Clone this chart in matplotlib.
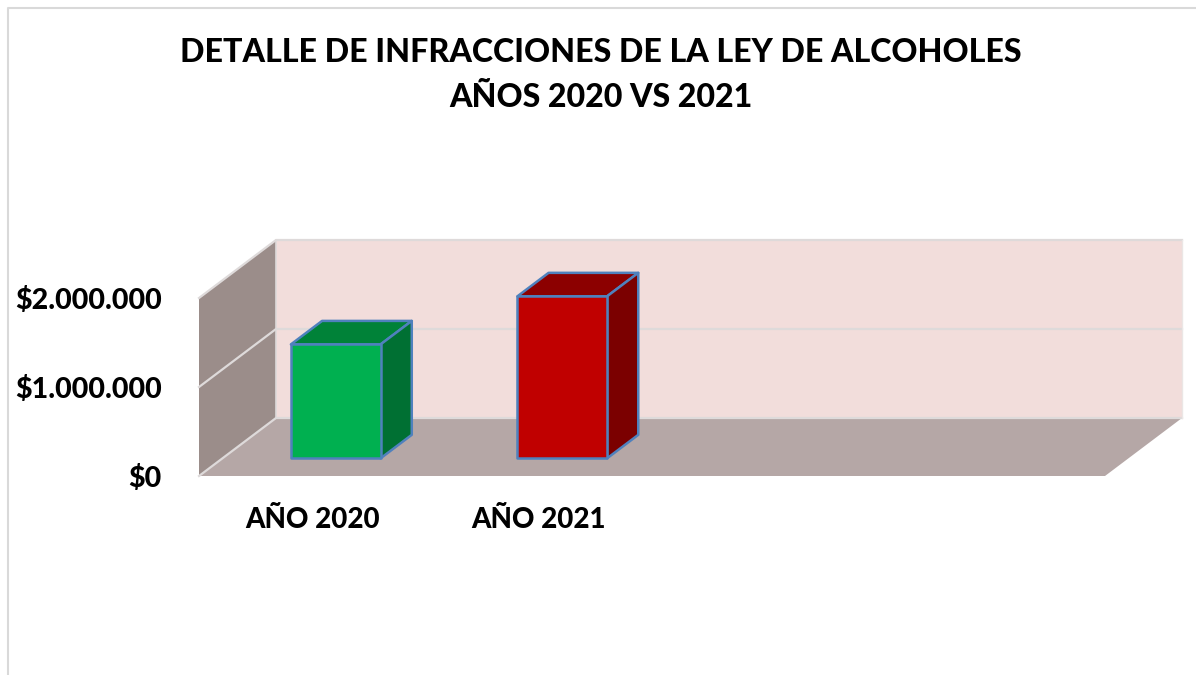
import matplotlib
matplotlib.use("Agg")
import matplotlib.pyplot as plt
from matplotlib.lines import Line2D
from matplotlib.patches import Polygon
from matplotlib.ticker import FuncFormatter

# Data
categories = ["AÑO 2020", "AÑO 2021"]
values = [1280000, 1820000]
front_colors = ["#00B050", "#C00000"]
top_colors = ["#008238", "#8C0000"]
side_colors = ["#007033", "#7B0000"]
y_ticks = [0, 1000000, 2000000]
title = "DETALLE DE INFRACCIONES DE LA LEY DE ALCOHOLES\nAÑOS 2020 VS 2021"

W, H = 1196, 675
FONT = "Lato"
WEIGHT = "black"
fig = plt.figure(figsize=(W / 100, H / 100), dpi=100, facecolor="white")
ax = fig.add_axes([199 / W, 1 - 476 / H, 906 / W, 178 / H])
ax.set_xlim(-0.5, 3.5)
ax.set_ylim(0, 2000000)
ax.patch.set_visible(False)
for s in ax.spines.values():
    s.set_visible(False)

# Oblique projection: full chart depth, in data units
DX = 77 / 226.5
DY = 58 / 89 * 1000000
XL, XR = -0.5, 3.5
YT = y_ticks[-1]
GRID = "#DEDADA"


def shift(x, y, d):
    return (x + DX * d, y + DY * d)


def poly(pts, color, z, ec="none", lw=0):
    ax.add_patch(Polygon(pts, closed=True, facecolor=color, edgecolor=ec,
                         linewidth=lw, zorder=z, clip_on=False, joinstyle="round"))


# Walls and floor
poly([shift(XL, 0, 1), shift(XR, 0, 1), shift(XR, YT, 1), shift(XL, YT, 1)], "#F2DDDB", 1)
poly([shift(XL, 0, 0), shift(XL, 0, 1), shift(XL, YT, 1), shift(XL, YT, 0)], "#9B8D8A", 1)
poly([shift(XL, 0, 0), shift(XR, 0, 0), shift(XR, 0, 1), shift(XL, 0, 1)], "#B5A7A6", 1)

# Gridlines on the walls
for t in y_ticks:
    p0, p1, p2 = shift(XL, t, 0), shift(XL, t, 1), shift(XR, t, 1)
    ax.add_line(Line2D([p0[0], p1[0], p2[0]], [p0[1], p1[1], p2[1]], color=GRID,
                       lw=1.6, zorder=2, clip_on=False, solid_joinstyle="miter"))
p0, p1 = shift(XL, 0, 1), shift(XL, YT, 1)
ax.add_line(Line2D([p0[0], p1[0]], [p0[1], p1[1]], color=GRID, lw=1.2, zorder=2, clip_on=False))
p0, p1 = shift(XR, 0, 1), shift(XR, YT, 1)
ax.add_line(Line2D([p0[0], p1[0]], [p0[1], p1[1]], color="#EBE6E5", lw=1.0, zorder=2, clip_on=False))

# 3D bars
BAR_W = 0.396
D0, D1 = 0.305, 0.71
EDGE = "#4F81BD"
for i, v in enumerate(values):
    l, r = i - BAR_W / 2, i + BAR_W / 2
    poly([shift(l, v, D0), shift(r, v, D0), shift(r, v, D1), shift(l, v, D1)],
         top_colors[i], 4, EDGE, 1.8)
    poly([shift(r, 0, D0), shift(r, 0, D1), shift(r, v, D1), shift(r, v, D0)],
         side_colors[i], 4, EDGE, 1.8)
    poly([shift(l, 0, D0), shift(r, 0, D0), shift(r, v, D0), shift(l, v, D0)],
         front_colors[i], 5, EDGE, 1.8)

# Axes
ax.set_xticks(range(len(categories)), categories)
ax.set_yticks(y_ticks)
ax.yaxis.set_major_formatter(FuncFormatter(lambda v, _: "$" + f"{int(v):,}".replace(",", ".")))
ax.tick_params(axis="y", length=0, pad=27, labelsize=20.6)
ax.tick_params(axis="x", length=0, pad=22, labelsize=20)
for lab in ax.get_xticklabels() + ax.get_yticklabels():
    lab.set_fontfamily(FONT)
    lab.set_fontweight(WEIGHT)
    lab.set_color("black")

# Title
fig.text(601 / W, 1 - 75 / H, title, ha="center", va="center", fontfamily=FONT,
         fontweight=WEIGHT, fontsize=23.1, color="black", linespacing=1.67)

# Chart frame (top and left edges)
fig.add_artist(Line2D([7.5 / W, 7.5 / W, 1], [0, 1 - 7.5 / H, 1 - 7.5 / H],
                      color="#D9D9D9", lw=1.5, transform=fig.transFigure))

fig.savefig("out.png", dpi=100)
